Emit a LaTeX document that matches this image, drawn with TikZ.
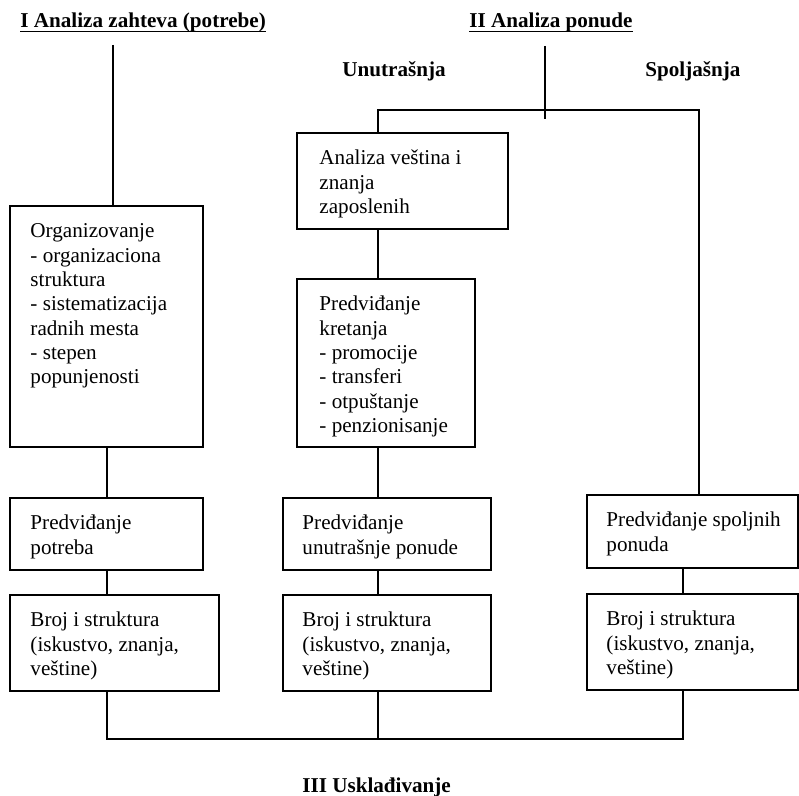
\documentclass[tikz,border=0pt]{standalone}
\usepackage{fontspec}
\setmainfont{Liberation Serif}
\usetikzlibrary{fit}
\begin{document}
\begin{tikzpicture}[x=0.568pt, y=-0.568pt,
  box/.style={draw, line width=1pt, inner sep=0pt},
  txt/.style={inner sep=0pt, anchor=base west, font=\fontsize{12}{13.85}\selectfont},
  hdr/.style={inner sep=0pt, anchor=base west, font=\fontsize{12}{13.75}\selectfont\bfseries},
  conn/.style={line width=1pt},
  uline/.style={line width=0.9pt}]
\useasboundingbox[fill=white] (0,0) rectangle (799,796);

% headings
\node[hdr] (h1) at (20,28) {I Analiza zahteva (potrebe)};
\node[hdr] (h2) at (469,28) {II Analiza ponude};
\draw[uline] ([yshift=-2.1pt]h1.base west) -- ([yshift=-2.1pt]h1.base east);
\draw[uline] ([yshift=-2.1pt]h2.base west) -- ([yshift=-2.1pt]h2.base east);
\node[hdr] (h3) at (342,77) {Unutrašnja};
\node[hdr] (h4) at (645,77) {Spoljašnja};
\node[hdr] (h5) at (302,792) {III Usklađivanje};

% boxes
\node[box, fit={(10,206) (203,447)}] (org) {};
\node[box, fit={(10,498) (203,570)}] (potL) {};
\node[box, fit={(10,595) (219,691)}] (brojL) {};
\node[box, fit={(297,133) (508,229)}] (anal) {};
\node[box, fit={(297,279) (475,447)}] (kret) {};
\node[box, fit={(283,498) (491,570)}] (unut) {};
\node[box, fit={(283,595) (491,691)}] (brojM) {};
\node[box, fit={(587,495) (798,568)}] (spolj) {};
\node[box, fit={(587,594) (798,690)}] (brojR) {};

% box texts
\node[txt] (t1) at ([shift={(21,32.5)}]org.north west) {\parbox[t]{200pt}{Organizovanje\\- organizaciona\\struktura\\- sistematizacija\\radnih mesta\\- stepen\\popunjenosti}};
\node[txt] (t2) at ([shift={(21,32.5)}]potL.north west) {\parbox[t]{200pt}{Predviđanje\\potreba}};
\node[txt] (t3) at ([shift={(21,32.5)}]brojL.north west) {\parbox[t]{200pt}{Broj i struktura\\(iskustvo, znanja,\\veštine)}};
\node[txt] (t4) at ([shift={(23,32.5)}]anal.north west) {\parbox[t]{200pt}{Analiza veština i\\znanja\\zaposlenih}};
\node[txt] (t5) at ([shift={(23,32.5)}]kret.north west) {\parbox[t]{200pt}{Predviđanje\\kretanja\\- promocije\\- transferi\\- otpuštanje\\- penzionisanje}};
\node[txt] (t6) at ([shift={(20,32.5)}]unut.north west) {\parbox[t]{200pt}{Predviđanje\\unutrašnje ponude}};
\node[txt] (t7) at ([shift={(20,32.5)}]brojM.north west) {\parbox[t]{200pt}{Broj i struktura\\(iskustvo, znanja,\\veštine)}};
\node[txt] (t8) at ([shift={(20,32.5)}]spolj.north west) {\parbox[t]{200pt}{Predviđanje spoljnih\\ponuda}};
\node[txt] (t9) at ([shift={(20,32.5)}]brojR.north west) {\parbox[t]{200pt}{Broj i struktura\\(iskustvo, znanja,\\veštine)}};

% connector guides
\coordinate (topL) at (113,45);
\coordinate (cL) at (107,0);
\coordinate (cM) at (378,0);
\coordinate (cS) at (699,0);
\coordinate (cR) at (683,0);
\coordinate (topM) at (545,46);
\coordinate (barM) at (545,119);
\coordinate (barY) at (0,110);
\coordinate (botY) at (0,739);

% left column
\draw[conn] (topL) -- (org.north -| topL);
\draw[conn] (org.south -| cL) -- (potL.north -| cL);
\draw[conn] (potL.south -| cL) -- (brojL.north -| cL);

% supply branch
\draw[conn] (topM) -- (barM);
\draw[conn] (anal.north -| cM) |- (barY -| cS) -- (spolj.north -| cS);
\draw[conn] (anal.south -| cM) -- (kret.north -| cM);
\draw[conn] (kret.south -| cM) -- (unut.north -| cM);
\draw[conn] (unut.south -| cM) -- (brojM.north -| cM);
\draw[conn] (spolj.south -| cR) -- (brojR.north -| cR);

% bottom join
\draw[conn] (brojL.south -| cL) |- (botY -| cR) -- (brojR.south -| cR);
\draw[conn] (brojM.south -| cM) -- (botY -| cM);
\end{tikzpicture}
\end{document}
